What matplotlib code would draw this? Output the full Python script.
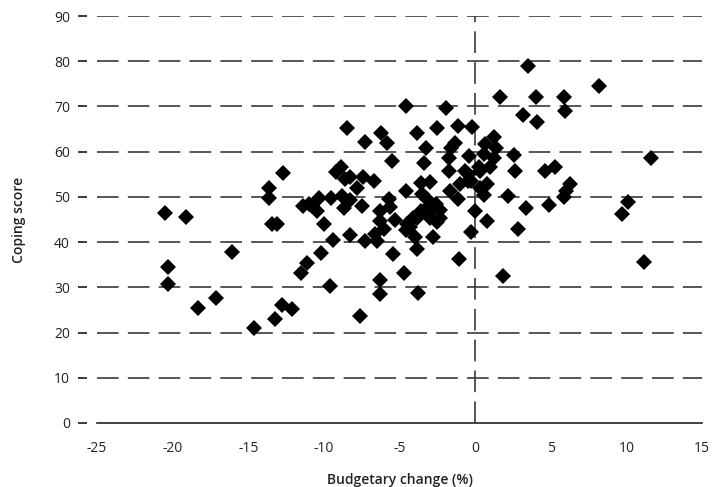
import matplotlib
matplotlib.use("Agg")
import matplotlib.pyplot as plt

# budgetary change (%) and coping score
budget_change = [
    -20.5, -19.1, -20.3, -20.3, -18.3, -17.1, -16.1, -14.6,
    -13.6, -13.6, -13.4, -13.1, -13.2, -12.8, -12.7, -12.1,
    -11.5, -11.1, -11.4, -11.0, -10.8, -10.3, -10.45, -10.0, -10.2,
    -9.6, -9.4, -9.5, -8.8, -9.2, -8.9, -8.5, -8.6, -8.25, -8.25,
    -8.7, -8.3, -7.8, -7.6, -7.5, -7.3, -7.4, -6.7, -7.3, -6.5,
    -6.6, -6.3, -6.3, -6.2, -5.8, -6.3, -6.3, -6.0, -5.7, -5.6,
    -5.5, -5.4, -5.3, -4.7, -4.6, -4.6, -4.6, -4.3, -4.1, -4.5,
    -3.85, -3.8, -3.85, -4.0, -3.7, -3.6, -3.6, -3.5, -3.25, -3.4,
    -3.0, -3.2, -3.1, -2.96, -2.8, -2.6, -2.5, -2.3, -2.35, -2.55,
    -3.84, -2.74, -1.95, -1.75, -1.75, -1.6, -1.35, -1.64, -1.05, -1.15,
    -1.1, -1.0, -0.4, -0.45, -0.65, -0.3, -0.3, -0.2, -0.5, 0.0,
    0.23, 0.35, 0.56, 0.65, 0.8, 0.6, 0.8, 1.0, 1.25, 1.4,
    1.25, 0.35, 1.65, 1.85, 2.15, 2.6, 2.65, 2.85, 3.15, 3.35,
    3.5, 4.0, 4.1, 4.6, 4.9, 5.25, 5.85, 5.95, 5.85, 6.0,
    6.3, 8.2, 9.7, 10.1, 11.15, 11.65,
]
coping_score = [
    46.4, 45.6, 34.6, 30.8, 25.5, 27.7, 37.9, 20.9,
    51.9, 49.7, 44.0, 44.0, 23.1, 26.0, 55.2, 25.3,
    33.2, 35.4, 48.0, 48.4, 47.9, 49.8, 46.9, 44.0, 37.6,
    30.3, 40.4, 49.8, 50.2, 55.6, 56.6, 65.3, 53.9, 54.3, 41.5,
    47.6, 49.4, 51.9, 23.6, 48.0, 62.2, 54.3, 53.6, 40.3, 40.3,
    41.8, 46.9, 44.7, 64.2, 62.0, 31.7, 28.6, 42.9, 49.6, 47.8,
    57.9, 37.4, 44.8, 33.2, 70.2, 51.3, 42.6, 43.3, 45.4, 44.0,
    64.2, 28.8, 38.5, 41.2, 46.2, 53.0, 46.9, 50.6, 60.9, 57.6,
    53.2, 49.5, 47.7, 45.4, 41.2, 48.4, 44.4, 45.4, 47.0, 65.3,
    45.4, 47.6, 69.7, 58.7, 55.7, 60.9, 62.0, 51.3, 36.3, 65.7,
    49.5, 52.8, 59.1, 55.0, 55.7, 53.5, 42.2, 65.4, 53.5, 46.9,
    56.5, 52.0, 59.4, 61.8, 52.8, 50.4, 44.6, 56.5, 63.3, 60.9,
    58.7, 55.7, 72.0, 32.4, 50.3, 59.2, 55.8, 42.8, 68.2, 47.6,
    78.9, 72.0, 66.5, 55.8, 48.1, 56.7, 72.0, 69.0, 49.9, 51.4,
    52.8, 74.5, 46.2, 48.8, 35.6, 58.7,
]

x_ticks = [-25, -20, -15, -10, -5, 0, 5, 10, 15]
y_ticks = [0, 10, 20, 30, 40, 50, 60, 70, 80, 90]

plt.rcParams['font.family'] = ['Open Sans', 'DejaVu Sans']
plt.rcParams['axes.unicode_minus'] = False
line_col = '#3a3a3a'
dash = (0, (13, 5.5))

fig = plt.figure(figsize=(7.14, 4.87), dpi=100)
ax = fig.add_axes([97 / 714, 64 / 487, 605 / 714, 407 / 487])

# dashed horizontal gridlines and the dashed line at zero change
for yv in y_ticks[1:]:
    ax.axhline(yv, color=line_col, lw=1.2, linestyle=dash, zorder=1)
ax.axvline(0, color=line_col, lw=1.2, linestyle=dash, zorder=1)

ax.plot(budget_change, coping_score, linestyle='none', marker='D',
        markersize=7.8, color='black', markeredgewidth=0, zorder=3)

ax.set_xlim(-25, 15)
ax.set_ylim(0, 90)
ax.set_xticks(x_ticks)
ax.set_yticks(y_ticks)
ax.set_xticks([-25, 15], minor=True)

for side in ['top', 'right', 'left']:
    ax.spines[side].set_visible(False)
ax.spines['left'].set_position(('outward', 7))
ax.spines['bottom'].set_color('#222222')
ax.spines['bottom'].set_linewidth(1.2)

ax.tick_params(axis='x', which='major', length=0, pad=13, labelsize=10, labelcolor='#222222')
ax.tick_params(axis='x', which='minor', length=7, width=1.2, color='#222222', direction='out')
ax.tick_params(axis='y', length=6.5, width=1.4, color=line_col, pad=6, labelsize=10, labelcolor='#222222')

ax.set_xlabel('Budgetary change (%)', fontsize=10, fontweight='semibold', color='#222222', labelpad=12)
ax.set_ylabel('Coping score', fontsize=10, fontweight='semibold', color='#222222', labelpad=20)

fig.savefig('out.png', dpi=100)
